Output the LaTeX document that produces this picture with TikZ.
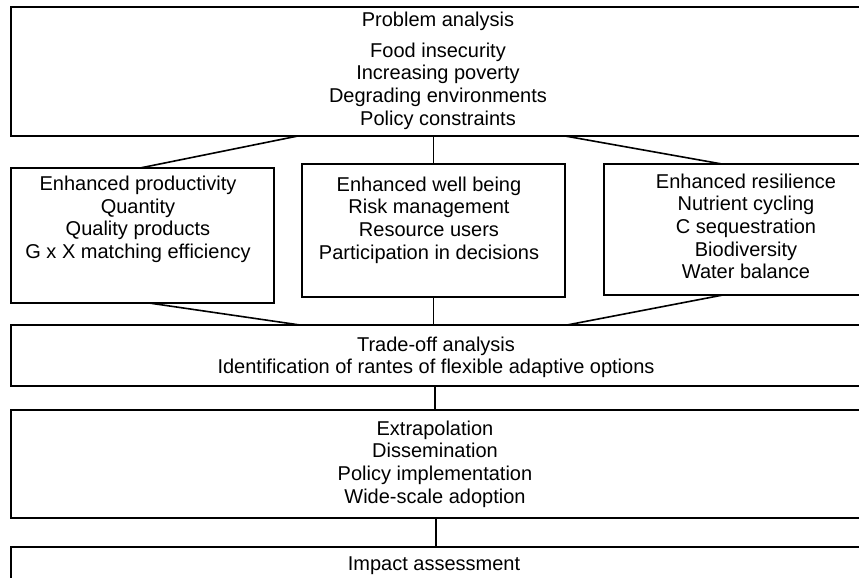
\documentclass[tikz,border=0pt]{standalone}
\usepackage{fontspec}
\setmainfont{Liberation Sans}
\newcommand{\blocktext}[1]{\begin{tabular}[t]{@{}c@{}}#1\end{tabular}}
\begin{document}
\begin{tikzpicture}[x=1pt,y=-1pt,
  box/.style={draw, line width=1.6pt, rectangle, inner sep=0pt, outer sep=0pt,
    anchor=north west},
  txt/.style={anchor=base, inner sep=0pt, font=\fontsize{20}{22.7}\selectfont},
  link/.style={line width=1.6pt}]
\useasboundingbox (0,0) rectangle (859,578);
\clip (0,0) rectangle (859,578);

% boxes (the wide ones run past the right margin)
\node[box, minimum width=880pt, minimum height=129pt] (top)    at (11,7)   {};
\node[box, minimum width=263pt, minimum height=135pt] (left)   at (11,168) {};
\node[box, minimum width=263pt, minimum height=133pt] (mid)    at (302,164) {};
\node[box, minimum width=300pt, minimum height=131pt] (right)  at (604,164) {};
\node[box, minimum width=880pt, minimum height=61pt]  (trade)  at (11,325) {};
\node[box, minimum width=880pt, minimum height=108pt] (extrap) at (11,410) {};
\node[box, minimum width=880pt, minimum height=60pt]  (impact) at (11,547) {};

% texts
\node[txt] (ttitle) at (438,27) {Problem analysis};
\node[txt] (tlist)  at (438,57) {\blocktext{Food insecurity\\Increasing poverty\\Degrading environments\\Policy constraints}};
\node[txt] (ltext)  at (138,190.5) {\blocktext{Enhanced productivity\\Quantity\\Quality products\\G x X matching efficiency}};
\node[txt] (mtext)  at (429,191) {\blocktext{Enhanced well being\\Risk management\\Resource users\\Participation in decisions}};
\node[txt] (rtext)  at (746,188) {\blocktext{Enhanced resilience\\Nutrient cycling\\C sequestration\\Biodiversity\\Water balance}};
\node[txt] (ttext)  at (436,351) {\blocktext{Trade-off analysis\\Identification of rantes of flexible adaptive options}};
\node[txt] (etext)  at (435,435) {\blocktext{Extrapolation\\Dissemination\\Policy implementation\\Wide-scale adoption}};
\node[txt] (itext)  at (434,570) {Impact assessment};

% connectors
\draw[link] ([xshift=287]top.south west) -- ([xshift=129]left.north west);
\draw[link] (mid.north |- top.south) -- (mid.north);
\draw[link] ([xshift=554]top.south west) -- ([xshift=118]right.north west);
\draw[link] ([xshift=138]left.south west) -- ([xshift=289]trade.north west);
\draw[link] (mid.south) -- (mid.south |- trade.north);
\draw[link] ([xshift=119]right.south west) -- ([xshift=556]trade.north west);
\draw[link] ([xshift=424]trade.south west) -- ([xshift=424]extrap.north west);
\draw[link] ([xshift=425]extrap.south west) -- ([xshift=425]impact.north west);
\end{tikzpicture}
\end{document}
